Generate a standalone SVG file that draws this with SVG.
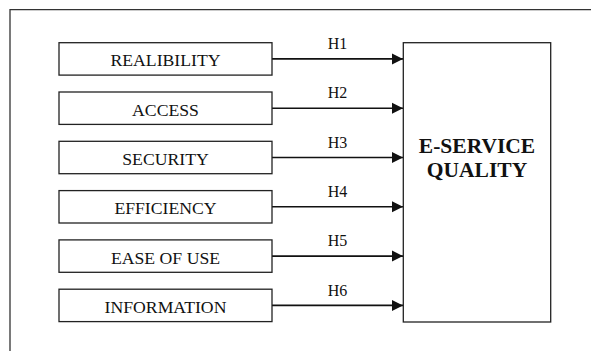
<svg xmlns="http://www.w3.org/2000/svg" width="591" height="351" viewBox="0 0 591 351">
<style>
.box{fill:#fff;stroke:#222;stroke-width:1.3}
.lbl{font-family:"Liberation Serif","Times New Roman",serif;font-size:17.7px;fill:#111;text-anchor:middle}
.h{font-family:"Liberation Serif","Times New Roman",serif;font-size:16px;fill:#111;text-anchor:middle}
.big{font-family:"Liberation Serif","Times New Roman",serif;font-size:21.5px;font-weight:bold;fill:#111;text-anchor:middle}
.conn{stroke:#111;stroke-width:1.6;fill:none;marker-end:url(#arr)}
</style>
<defs>
<marker id="arr" markerUnits="userSpaceOnUse" markerWidth="12" markerHeight="12" refX="11" refY="6" orient="auto">
<path d="M0,0.5 L11,6 L0,11.5 Z" fill="#111"/>
</marker>
</defs>
<rect width="591" height="351" fill="#fff"/>
<path d="M10,351 V9.7 H591" fill="none" stroke="#333" stroke-width="1.3"/>
<g id="connectors">
<line class="conn" x1="272" y1="58.9" x2="403" y2="58.9"/>
<line class="conn" x1="272" y1="108.2" x2="403" y2="108.2"/>
<line class="conn" x1="272" y1="157.5" x2="403" y2="157.5"/>
<line class="conn" x1="272" y1="206.8" x2="403" y2="206.8"/>
<line class="conn" x1="272" y1="256.1" x2="403" y2="256.1"/>
<line class="conn" x1="272" y1="305.4" x2="403" y2="305.4"/>
<text class="h" x="337.5" y="49">H1</text>
<text class="h" x="337.5" y="98.3">H2</text>
<text class="h" x="337.5" y="147.6">H3</text>
<text class="h" x="337.5" y="196.9">H4</text>
<text class="h" x="337.5" y="246.2">H5</text>
<text class="h" x="337.5" y="295.5">H6</text>
</g>
<g id="realibility"><rect class="box" x="59" y="42.7" width="213" height="32.4"/><text class="lbl" x="165.5" y="66.3">REALIBILITY</text></g>
<g id="access"><rect class="box" x="59" y="92" width="213" height="32.4"/><text class="lbl" x="165.5" y="115.6">ACCESS</text></g>
<g id="security"><rect class="box" x="59" y="141.3" width="213" height="32.4"/><text class="lbl" x="165.5" y="164.9">SECURITY</text></g>
<g id="efficiency"><rect class="box" x="59" y="190.6" width="213" height="32.4"/><text class="lbl" x="165.5" y="214.2">EFFICIENCY</text></g>
<g id="ease-of-use"><rect class="box" x="59" y="239.9" width="213" height="32.4"/><text class="lbl" x="165.5" y="263.5">EASE OF USE</text></g>
<g id="information"><rect class="box" x="59" y="289.2" width="213" height="32.4"/><text class="lbl" x="165.5" y="312.8">INFORMATION</text></g>
<g id="e-service-quality"><rect class="box" x="403.3" y="42.7" width="147.4" height="279.3"/><text class="big" x="477" y="152.7">E-SERVICE</text><text class="big" x="477" y="176.7">QUALITY</text></g>
</svg>
